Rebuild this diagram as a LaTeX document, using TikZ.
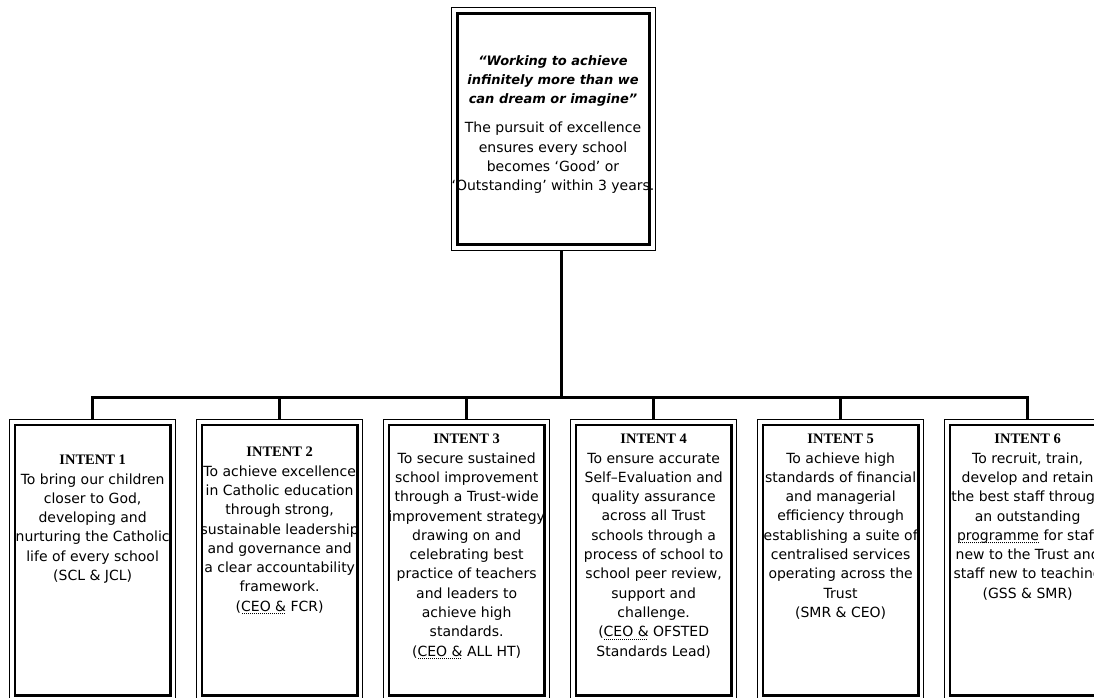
\documentclass[tikz,border=0pt]{standalone}
\usepackage{fontspec}
\setmainfont{DejaVu Sans}
\newfontfamily\headfont{Liberation Serif}
\newsavebox\dulbox
\newcommand\dotul[1]{\sbox\dulbox{#1}\rlap{\raisebox{-3pt}{\hbox to \wd\dulbox{\leaders\hbox to 2pt{\hss\rule{1pt}{1pt}\hss}\hfill}}}\usebox\dulbox}
\newcommand\hd[1]{{\headfont\bfseries\fontsize{14.5}{19.3}\selectfont #1}}
\newcommand\qline[1]{{\bfseries\itshape\fontsize{13}{19.3}\selectfont #1}}
\newcommand\innerframe[2]{\draw[line width=2.8pt] ([shift={(#2,-#2)}]#1.north west) rectangle ([shift={(-#2,#2)}]#1.south east);}
\begin{document}
\begin{tikzpicture}[x=1pt,y=-1pt,
  outerbox/.style={draw, line width=1.3pt, minimum width=166pt, minimum height=281pt, inner sep=0pt, anchor=north west},
  topbox/.style={draw, line width=1.3pt, minimum width=204pt, minimum height=243pt, inner sep=0pt, anchor=north west},
  txt/.style={align=center, inner sep=0pt, anchor=north, font=\fontsize{14}{19.3}\selectfont},
  toptxt/.style={align=center, inner sep=0pt, anchor=north, font=\fontsize{14}{19.3}\selectfont},
  conn/.style={line width=3pt},
  drop/.style={line width=2.6pt}]
\useasboundingbox (0,0) rectangle (1094,697);
\begin{scope}
\clip (0,0) rectangle (1094,697);
\fill[white] (0,0) rectangle (1094,697);
% top box
\node[topbox] (top) at (451,7) {};
\innerframe{top}{6.5pt}
\node[toptxt] (toptext) at (553,55) {\qline{“Working to achieve}\\ \qline{infinitely more than we}\\ \qline{can dream or imagine”}\\[10pt] The pursuit of excellence\\ ensures every school\\ becomes ‘Good’ or\\ ‘Outstanding’ within 3 years.};
% intent boxes
\node[outerbox] (i1) at (9,419) {};
\node[outerbox] (i2) at (196,419) {};
\node[outerbox] (i3) at (383,419) {};
\node[outerbox] (i4) at (570,419) {};
\node[outerbox] (i5) at (757,419) {};
\node[outerbox] (i6) at (944,419) {};
\foreach \b in {i1,i2,i3,i4,i5,i6}{\innerframe{\b}{6pt}}
% connectors
\coordinate (bar) at (561,397);
\draw[conn] (top.south -| bar) -- (bar);
\draw[conn] (i1.north) -- (i1.north |- bar) -- (i6.north |- bar) -- (i6.north);
\foreach \b in {i2,i3,i4,i5}{\draw[drop] (\b.north |- bar) -- (\b.north);}
% texts
\node[txt] (t1) at (i1.north |- 0,455) {\hd{INTENT 1}\\ To bring our children\\ closer to God,\\ developing and\\ nurturing the Catholic\\ life of every school\\ (SCL \& JCL)};
\node[txt] (t2) at (i2.north |- 0,447) {\hd{INTENT 2}\\ To achieve excellence\\ in Catholic education\\ through strong,\\ sustainable leadership\\ and governance and\\ a clear accountability\\ framework.\\ (\dotul{CEO \&} FCR)};
\node[txt] (t3) at (i3.north |- 0,434) {\hd{INTENT 3}\\ To secure sustained\\ school improvement\\ through a Trust-wide\\ improvement strategy\\ drawing on and\\ celebrating best\\ practice of teachers\\ and leaders to\\ achieve high\\ standards.\\ (\dotul{CEO \&} ALL HT)};
\node[txt] (t4) at (i4.north |- 0,434) {\hd{INTENT 4}\\ To ensure accurate\\ Self–Evaluation and\\ quality assurance\\ across all Trust\\ schools through a\\ process of school to\\ school peer review,\\ support and\\ challenge.\\ (\dotul{CEO \&} OFSTED\\ Standards Lead)};
\node[txt] (t5) at (i5.north |- 0,434) {\hd{INTENT 5}\\ To achieve high\\ standards of financial\\ and managerial\\ efficiency through\\ establishing a suite of\\ centralised services\\ operating across the\\ Trust\\ (SMR \& CEO)};
\node[txt] (t6) at (i6.north |- 0,434) {\hd{INTENT 6}\\ To recruit, train,\\ develop and retain\\ the best staff through\\ an outstanding\\ \dotul{programme} for staff\\ new to the Trust and\\ staff new to teaching\\ (GSS \& SMR)};
\end{scope}
\end{tikzpicture}
\end{document}
